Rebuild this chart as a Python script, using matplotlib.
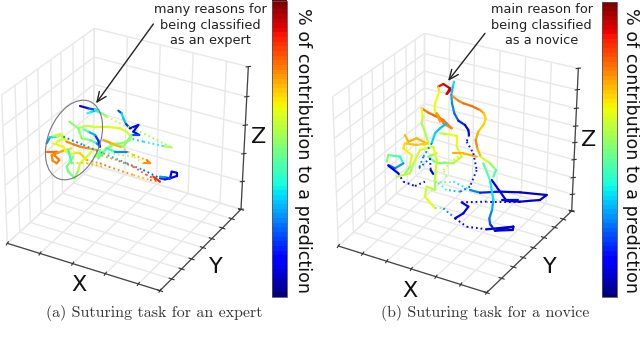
import numpy as np
import matplotlib
matplotlib.use("Agg")
import matplotlib.pyplot as plt
from matplotlib.collections import LineCollection
from matplotlib.patches import Ellipse

x_ticks_a = [0, .214, .428, .642, .858, 1]
y_ticks_a = [0, .144, .267, .39, .53, .64, .77, .885, 1]
z_ticks_a = [0, .195, .39, .59, .79, 1]
x_ticks_b = [0, .164, .326, .492, .658, .825, 1]
y_ticks_b = [0, .176, .314, .43, .55, .675, .80, .9, 1]
z_ticks_b = [0, .117, .234, .36, .48, .595, .72, .85, 1]

box_a = dict(A=(22, 730), B=(480, 872), C=(723, 628), D=(280, 495), At=(5, 285), Ct=(745, 200), Dt=(283, 85))
box_b = dict(A=(55, 738), B=(500, 878), C=(755, 633), D=(313, 505), At=(38, 290), Ct=(775, 205), Dt=(313, 100))

# (x, y, value) along the tool trajectory
expert_solid = [
    [(240, 318, .1), (265, 325, .15), (290, 330, .25), (275, 335, .35), (262, 340, .42)],
    [(285, 330, .3), (305, 340, .45), (320, 350, .58)],
    [(515, 442, .6), (490, 438, .5)],
    [(355, 332, .12), (365, 340, .3), (370, 355, .38), (378, 372, .25), (390, 385, .1), (415, 375, .1), (400, 395, .12),
     (418, 405, .1), (395, 405, .3), (385, 420, .5), (370, 440, .55), (340, 435, .5), (318, 445, .55), (300, 465, .6),
     (285, 470, .5)],
    [(208, 365, .5), (235, 385, .55), (258, 378, .58), (280, 380, .6), (320, 380, .62), (360, 385, .62), (380, 395, .62),
     (392, 410, .58), (390, 420, .55), (365, 430, .5), (330, 432, .5)],
    [(235, 385, .5), (240, 400, .52), (245, 415, .55), (270, 420, .5), (290, 430, .4), (300, 440, .15), (295, 422, .15),
     (285, 405, .2), (265, 395, .4), (250, 388, .5)],
    [(140, 430, .35), (150, 412, .2), (170, 410, .5), (185, 405, .6), (200, 425, .75), (220, 433, .78), (240, 440, .78),
     (265, 445, .75), (290, 450, .7)],
    [(480, 535, .2), (495, 538, .15), (510, 535, .12), (530, 528, .08), (530, 518, .08), (515, 515, .1), (510, 535, .15),
     (495, 532, .25), (480, 530, .3)],
    [(140, 455, .78), (170, 455, .8), (162, 465, .78), (178, 480, .78), (170, 490, .78), (158, 482, .75), (155, 465, .78),
     (175, 458, .75), (195, 450, .72), (215, 445, .62)],
    [(160, 430, .65), (175, 435, .65), (190, 440, .65), (200, 455, .62), (210, 465, .6), (225, 458, .65), (240, 460, .68),
     (260, 480, .7)],
    [(310, 420, .75), (335, 430, .72), (360, 440, .7)],
    [(440, 480, .72), (450, 490, .85), (430, 490, .65)],
    [(220, 470, .5), (200, 500, .5), (205, 515, .48), (225, 535, .5), (235, 510, .55), (240, 490, .6), (275, 455, .6)],
    [(205, 450, .4), (210, 470, .42), (215, 490, .45)],
    [(160, 408, .6), (180, 402, .58), (195, 415, .6), (170, 425, .62)],
    [(285, 470, .55), (300, 450, .5), (295, 475, .5), (320, 445, .45), (345, 455, .4), (380, 455, .12)],
    [(460, 530, .82), (480, 545, .9)],
]
expert_dotted = [
    [(320, 350, .6), (370, 375, .58), (420, 395, .55), (470, 420, .55), (515, 442, .58)],
    [(490, 438, .38), (430, 425, .35), (390, 415, .3)],
    [(190, 410, .25), (250, 435, .25), (310, 460, .3), (380, 490, .3), (430, 510, .25), (480, 535, .2)],
    [(260, 480, .7), (300, 490, .78), (340, 505, .8), (400, 525, .72), (450, 540, .7), (480, 545, .9)],
    [(480, 545, .9), (440, 525, .82), (400, 500, .8), (350, 480, .78), (300, 465, .7)],
    [(360, 440, .7), (400, 465, .72), (440, 480, .72)],
    [(430, 490, .6), (400, 470, .6), (330, 460, .5), (300, 455, .55)],
    [(215, 490, .7), (260, 490, .68), (310, 500, .75)],
]

novice_solid = [
    [(355, 260, .9), (370, 252, .9), (390, 265, .95), (380, 282, .95), (392, 270, .88)],
    [(355, 262, .7), (358, 275, .65), (345, 310, .63), (344, 330, .63), (350, 345, .65)],
    [(402, 245, .37), (398, 262, .33), (394, 285, .3), (396, 310, .27), (403, 340, .25), (415, 362, .2), (435, 375, .12),
     (445, 390, .1), (447, 405, .1)],
    [(397, 288, .75), (415, 302, .76), (430, 310, .78), (455, 318, .8), (480, 330, .78), (492, 340, .7), (497, 355, .68),
     (492, 372, .68), (475, 395, .7), (467, 420, .76), (472, 445, .78), (482, 470, .65), (510, 490, .55), (528, 510, .5),
     (520, 530, .4)],
    [(305, 325, .75), (325, 338, .8), (340, 345, .8), (370, 360, .82), (395, 385, .75), (372, 372, .78), (350, 340, .78),
     (360, 365, .7)],
    [(305, 325, .65), (308, 350, .6), (305, 370, .58), (315, 395, .55), (325, 430, .58), (310, 435, .55)],
    [(360, 400, .55), (385, 403, .62), (410, 408, .65), (410, 440, .62), (425, 470, .6), (400, 490, .55), (375, 488, .52),
     (350, 490, .5), (325, 470, .45), (350, 460, .6)],
    [(380, 370, .3), (360, 385, .32), (345, 400, .32), (335, 430, .35)],
    [(332, 510, .1), (340, 522, .08)],
    [(255, 405, .72), (265, 425, .7), (290, 415, .75), (320, 430, .68), (290, 435, .7), (255, 430, .7),
     (250, 445, .65), (275, 465, .65), (270, 500, .55), (255, 520, .5)],
    [(200, 485, .55), (205, 465, .5), (225, 468, .45), (240, 470, .4), (250, 490, .4), (225, 505, .15), (205, 495, .3)],
    [(205, 497, .15), (235, 520, .08)],
    [(230, 530, .6), (270, 520, .55), (285, 480, .58), (300, 450, .62), (340, 440, .6), (350, 480, .65), (345, 540, .55),
     (345, 570, .55), (320, 560, .6), (315, 590, .6), (345, 625, .65)],
    [(345, 545, .55), (345, 520, .6)],
    [(450, 570, .3), (480, 578, .2), (540, 575, .1), (600, 577, .08), (680, 585, .05), (660, 600, .08),
     (600, 605, .08), (560, 603, .08), (515, 540, .12)],
    [(545, 600, .15), (595, 600, .08)],
    [(425, 607, .1), (445, 620, .1), (430, 640, .12), (405, 655, .12)],
    [(500, 688, .08), (580, 680, .06), (525, 692, .1), (510, 672, .2), (508, 655, .22), (516, 630, .28), (520, 600, .3),
     (510, 540, .4), (490, 490, .5)],
    [(580, 680, .06), (578, 690, .06), (525, 692, .08)],
    [(400, 460, .72), (430, 460, .72), (470, 470, .72)],
]
novice_dotted = [
    [(447, 405, .15), (440, 425, .15), (460, 460, .15), (470, 510, .12), (450, 560, .2), (420, 575, .25),
     (380, 570, .37), (350, 545, .45)],
    [(335, 430, .25), (310, 470, .25), (297, 505, .25), (330, 475, .2), (332, 510, .1)],
    [(235, 520, .1), (250, 545, .1), (285, 558, .12), (315, 545, .15)],
    [(345, 545, .55), (400, 545, .42), (450, 570, .3)],
    [(600, 605, .08), (500, 605, .1), (425, 607, .1)],
    [(405, 655, .12), (440, 680, .08), (500, 688, .08)],
    [(345, 625, .65), (370, 625, .35), (400, 650, .15)],
    [(380, 530, .55), (370, 510, .6), (400, 480, .6), (430, 460, .7)],
]

captions = ["(a) Suturing task for an expert", "(b) Suturing task for a novice"]
notes = ["many reasons for\nbeing classified\nas an expert", "main reason for\nbeing classified\nas a novice"]
cbar_label = "% of contribution to a prediction"


def lerp(p, q, t):
    return (p[0] + (q[0] - p[0]) * t, p[1] + (q[1] - p[1]) * t)


def draw_box(ax, b, xt, yt, zt):
    A, B, C, D, At, Ct, Dt = b["A"], b["B"], b["C"], b["D"], b["At"], b["Ct"], b["Dt"]
    grid = []
    for t in xt:
        grid.append([lerp(A, B, t), lerp(D, C, t)])
        grid.append([lerp(D, C, t), lerp(Dt, Ct, t)])
    for t in yt:
        grid.append([lerp(B, C, t), lerp(A, D, t)])
        grid.append([lerp(A, D, t), lerp(At, Dt, t)])
    for t in zt:
        grid.append([lerp(A, At, t), lerp(D, Dt, t)])
        grid.append([lerp(D, Dt, t), lerp(C, Ct, t)])
    ax.add_collection(LineCollection(grid, colors="#e8e8e8", linewidths=1.0, zorder=1))
    ax.plot([A[0], B[0], C[0], Ct[0]], [A[1], B[1], C[1], Ct[1]], color="#444444", lw=0.9, zorder=2)
    ticks = []
    for t in xt:
        p = lerp(A, B, t)
        ticks.append([(p[0] - 4, p[1] + 6), (p[0] + 4, p[1] - 6)])
    for t in yt:
        p = lerp(B, C, t)
        ticks.append([(p[0] - 9, p[1] - 3), (p[0] + 9, p[1] + 3)])
    for t in zt:
        p = lerp(C, Ct, t)
        ticks.append([(p[0] - 8, p[1] + 1), (p[0] + 8, p[1] - 1)])
    ax.add_collection(LineCollection(ticks, colors="#333333", linewidths=0.8, zorder=2))


def draw_paths(ax, paths, **kw):
    for p in paths:
        xs, ys, vals = np.array(p).T
        pts = np.column_stack([xs, ys])
        segs = np.stack([pts[:-1], pts[1:]], axis=1)
        lc = LineCollection(segs, cmap="jet", norm=plt.Normalize(0, 1), zorder=3, **kw)
        lc.set_array((vals[:-1] + vals[1:]) / 2)
        ax.add_collection(lc)


fig = plt.figure(figsize=(6.4, 3.43), dpi=100)
ax1 = fig.add_axes([0, 0, .5, 1])
ax2 = fig.add_axes([.5, 0, .5, 1])
for ax in (ax1, ax2):
    ax.set_xlim(0, 960)
    ax.set_ylim(1029, 0)
    ax.axis("off")

draw_box(ax1, box_a, x_ticks_a, y_ticks_a, z_ticks_a)
draw_box(ax2, box_b, x_ticks_b, y_ticks_b, z_ticks_b)

draw_paths(ax1, expert_solid, linewidths=1.6, capstyle="round")
draw_paths(ax1, expert_dotted, linewidths=1.4, linestyles=[(0, (0.9, 1.5))], capstyle="butt")
draw_paths(ax2, novice_solid, linewidths=1.6, capstyle="round")
draw_paths(ax2, novice_dotted, linewidths=1.4, linestyles=[(0, (0.9, 1.5))], capstyle="butt")

ax1.add_patch(Ellipse((222, 420), 250, 155, angle=-68, fill=False, ec="#777777", lw=0.8, zorder=4))

gradient = np.linspace(1, 0, 64).reshape(-1, 1)
for ax, ext, lx, note, nx, cap, cx, arrow, labels in [
    (ax1, (815, 860, 892, 3), 908, notes[0], 632, captions[0], 463, ((460, 72), (288, 310)),
     [("X", 237, 855), ("Y", 648, 800), ("Z", 776, 411)]),
    (ax2, (847, 892, 890, 5), 933, notes[1], 665, captions[1], 497, ((495, 100), (384, 243)),
     [("X", 270, 872), ("Y", 690, 802), ("Z", 805, 421)]),
]:
    ax.imshow(gradient, cmap="jet", extent=ext, aspect="auto", zorder=2, vmin=0, vmax=1)
    ax.plot([ext[0], ext[1], ext[1], ext[0], ext[0]], [ext[3], ext[3], ext[2], ext[2], ext[3]],
            color="#555555", lw=0.6, zorder=3)
    ax.set_xlim(0, 960)
    ax.set_ylim(1029, 0)
    ax.text(lx, 452, cbar_label, rotation=270, ha="center", va="center", fontsize=12.6, color="#111111")
    ax.text(nx, 75, note, ha="center", va="center", fontsize=9.3, linespacing=1.27, color="#222222")
    ax.text(cx, 938, cap, ha="center", va="center", fontsize=11.5, family="cmr10", color="#333333")
    ax.annotate("", xy=arrow[1], xytext=arrow[0], zorder=5,
                arrowprops=dict(arrowstyle="->,head_length=0.7,head_width=0.3", color="#222222", lw=1.0,
                                shrinkA=0, shrinkB=0))
    for s, x, y in labels:
        ax.text(x, y, s, ha="center", va="center", fontsize=16, color="#111111")

fig.savefig("out.png", dpi=100)
